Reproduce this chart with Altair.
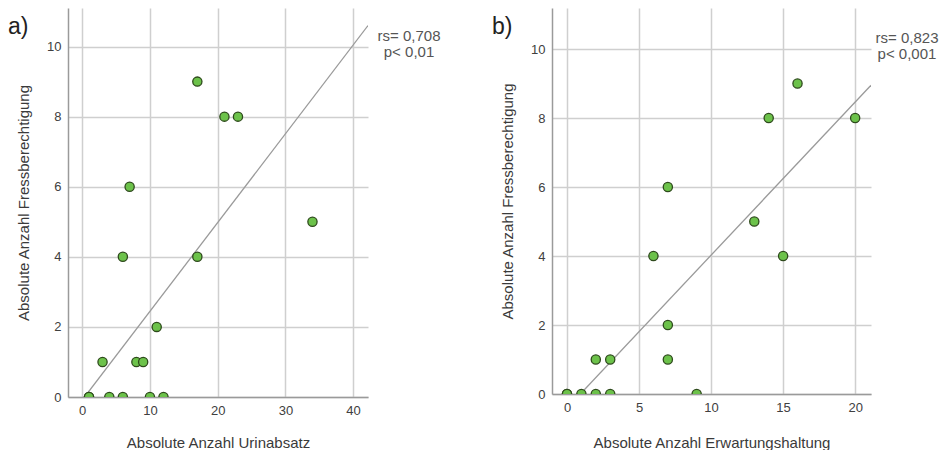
import altair as alt
import pandas as pd

# ---- data ----
a_x = [1, 1, 4, 6, 10, 12, 3, 8, 9, 11, 6, 17, 7, 34, 21, 23, 17]
a_y = [0, 0, 0, 0, 0, 0, 1, 1, 1, 2, 4, 4, 6, 5, 8, 8, 9]
b_x = [0, 0, 1, 2, 3, 9, 2, 3, 7, 7, 6, 15, 13, 7, 14, 20, 16]
b_y = [0, 0, 0, 0, 0, 0, 1, 1, 1, 2, 4, 4, 5, 6, 8, 8, 9]

a_fit_x = [0.35, 42.2]
a_fit_y = [0.0, 10.6]
b_fit_x = [0.93, 21.1]
b_fit_y = [0.0, 8.95]

a_stats = ["rs= 0,708", "p< 0,01"]
b_stats = ["rs= 0,823", "p< 0,001"]

a_xticks = [0, 10, 20, 30, 40]
b_xticks = [0, 5, 10, 15, 20]
y_ticks = [0, 2, 4, 6, 8, 10]

a_xtitle = "Absolute Anzahl Urinabsatz"
b_xtitle = "Absolute Anzahl Erwartungshaltung"
ytitle = "Absolute Anzahl Fressberechtigung"

FONT = "Liberation Sans"
GRID = "#cfcfcf"
AXIS = "#9a9a9a"
LABEL = "#404040"
TITLE = "#3a3a3a"


def panel(xs, ys, fx, fy, stats, letter, xdom, xticks, ydom, xtitle, w, h,
          stat_x, stat_y, xtpad):
    pts = pd.DataFrame({"x": xs, "y": ys})
    fit = pd.DataFrame({"x": fx, "y": fy})
    xscale = alt.Scale(domain=xdom, nice=False, zero=False)
    yscale = alt.Scale(domain=ydom, nice=False, zero=False)
    xaxis = alt.Axis(values=xticks, title=xtitle, grid=True, ticks=False,
                     labelPadding=7, titlePadding=xtpad)
    yaxis = alt.Axis(values=y_ticks, title=ytitle, grid=True, ticks=False,
                     labelPadding=7, titlePadding=15)

    base_pts = alt.Chart(pts).mark_point(
        filled=True, shape="circle", size=85, fill="#6cc24a", stroke="#2e4a1c",
        strokeWidth=1.3, opacity=1, clip=True
    ).encode(
        x=alt.X("x:Q", scale=xscale, axis=xaxis),
        y=alt.Y("y:Q", scale=yscale, axis=yaxis),
    )
    line = alt.Chart(fit).mark_line(color="#9a9a9a", strokeWidth=1.3, clip=True).encode(
        x=alt.X("x:Q", scale=xscale), y=alt.Y("y:Q", scale=yscale)
    )
    sdf = pd.DataFrame({"t": stats, "yy": [stat_y, stat_y + 16]})
    stat = alt.Chart(sdf).mark_text(
        font=FONT, fontSize=15, color="#555555", align="center", baseline="middle"
    ).encode(x=alt.value(stat_x), y=alt.Y("yy:Q", scale=None), text="t:N")
    lab = alt.Chart(pd.DataFrame({"t": [letter]})).mark_text(
        font=FONT, fontSize=23, color="#222222", align="left", baseline="middle"
    ).encode(x=alt.value(-60), y=alt.value(19), text="t:N")
    return alt.layer(line, base_pts, stat, lab).properties(width=w, height=h)


pa = panel(a_x, a_y, a_fit_x, a_fit_y, a_stats, "a)", [-2.1, 42.2], a_xticks,
           [0, 11.1], a_xtitle, 300, 389, 341, 28, 18)
pb = panel(b_x, b_y, b_fit_x, b_fit_y, b_stats, "b)", [-1.04, 21.1], b_xticks,
           [0, 11.19], b_xtitle, 319, 386, 355, 30, 21)

chart = alt.hconcat(pa, pb, spacing=51).properties(
    padding=0, background="white"
).configure_view(
    stroke=None
).configure_axis(
    domainColor=AXIS, domainWidth=1.5, gridColor=GRID, gridWidth=1.5,
    labelFont=FONT, labelFontSize=13, labelColor=LABEL,
    titleFont=FONT, titleFontSize=15, titleFontWeight="normal", titleColor=TITLE,
)

chart.save("out.html", embed_options={"renderer": "svg", "actions": False})
